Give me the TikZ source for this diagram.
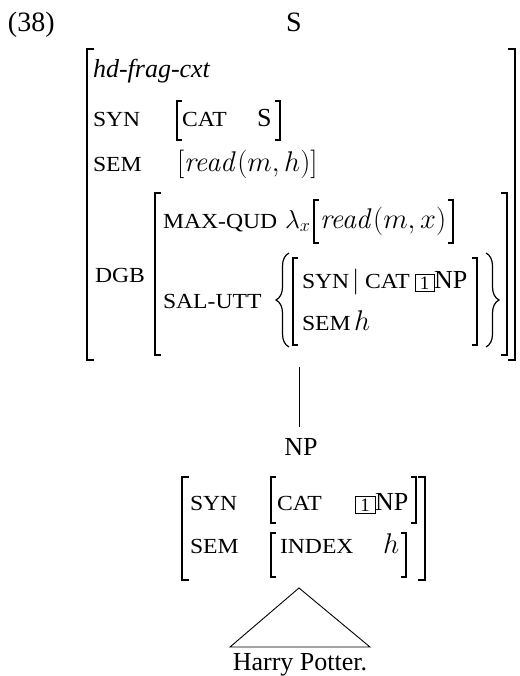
\documentclass[tikz,border=0pt]{standalone}
\usepackage{fix-cm}
\usepackage[no-math]{fontspec}
\setmainfont{Liberation Serif}
% feature names in small capitals: widened upper case at a reduced size
\newfontfamily\scfam[FakeStretch=1.1]{Liberation Serif}
\usetikzlibrary{decorations.pathreplacing}

\tikzset{
  txt/.style={inner sep=0pt, outer sep=0pt, anchor=base west,
              font=\fontsize{26}{26}\selectfont},
  mathtxt/.style={txt, font=\fontsize{28.5}{28.5}\selectfont},
  smallcap/.style={txt, font=\scfam\fontsize{21.5}{21.5}\selectfont},
  bigtxt/.style={inner sep=0pt, outer sep=0pt, anchor=base west,
              font=\fontsize{28}{28}\selectfont},
  brk/.style={line width=1.1pt},
  tagbox/.style={draw, line width=0.8pt, inner sep=0pt, outer sep=0pt,
              minimum width=19pt, minimum height=16.5pt, anchor=south west,
              font=\fontsize{19}{19}\selectfont},
  link/.style={line width=0.9pt},
  curly/.style={line width=1.2pt, decorate, decoration={brace, amplitude=13pt}}
}

\begin{document}
\begin{tikzpicture}[x=1pt, y=1pt]
\useasboundingbox (0,0) rectangle (519,-676);

% ---- label and mother category ----
\node[bigtxt] (exnum) at (8,-32) {(38)};
\node[bigtxt, anchor=base] (mother) at (294,-32) {S};

% ---- outer AVM of S ----
\draw[brk] (94,-49) -| (87,-360) -- ++(7,0);
\draw[brk] (508,-49) -| (515,-360) -- ++(-7,0);

\node[txt] (type) at (93,-78) {\textit{hd-frag-cxt}};

\node[smallcap] (synA) at (93,-127) {SYN};
\draw[brk] (182,-101) -| (177,-140) -- ++(5,0);
\node[smallcap] (catA) at (182,-127) {CAT};
\node[txt] (valA) at (257,-127) {S};
\draw[brk] (275,-101) -| (280,-140) -- ++(-5,0);

\node[smallcap] (semA) at (93,-172) {SEM};
\node[mathtxt] (readA) at (177,-172) {$[\mathit{read}(m,h)]$};

\node[smallcap] (dgb) at (95,-282) {DGB};
\draw[brk] (161,-193) -| (155,-355) -- ++(6,0);
\draw[brk] (501,-193) -| (507,-355) -- ++(-6,0);

\node[smallcap] (maxqud) at (163,-228) {MAX-QUD};
\node[txt] (lam) at (285,-228) {$\lambda_x$};
\draw[brk] (319,-200) -| (314,-243) -- ++(5,0);
\node[mathtxt] (readB) at (320,-228) {$\mathit{read}(m,x)$};
\draw[brk] (448,-200) -| (453,-243) -- ++(-5,0);

\node[smallcap] (salutt) at (163,-308) {SAL-UTT};
\draw[curly] (289,-347) -- (289,-253);
\draw[brk] (298,-258) -| (293,-345) -- ++(5,0);
\node[smallcap] (synB) at (302,-288) {SYN};
\node[txt] (barB) at (352,-288) {$|$};
\node[smallcap] (catB) at (365,-288) {CAT};
\node[tagbox] (tagB) at (415,-291) {1};
\node[txt] (npB) at (434,-288) {NP};
\node[smallcap] (semB) at (302,-330) {SEM};
\node[mathtxt] (hB) at (354,-330) {$h$};
\draw[brk] (472,-258) -| (477,-345) -- ++(-5,0);
\draw[curly] (486,-253) -- (486,-347);

% ---- branch to the daughter ----
\coordinate (branchtop) at (299,-367);
\coordinate (branchbot) at (299,-427);
\draw[link] (branchtop) -- (branchbot);

\node[txt, anchor=base] (daughter) at (301,-455) {NP};

% ---- AVM of NP ----
\draw[brk] (189,-477) -| (182,-580) -- ++(7,0);
\draw[brk] (418,-477) -| (425,-580) -- ++(-7,0);

\node[smallcap] (synC) at (190,-510) {SYN};
\draw[brk] (276,-477) -| (271,-523) -- ++(5,0);
\node[smallcap] (catC) at (277,-510) {CAT};
\node[tagbox, minimum width=20pt] (tagC) at (355,-513) {1};
\node[txt] (npC) at (375,-510) {NP};
\draw[brk] (411,-477) -| (416,-523) -- ++(-5,0);

\node[smallcap] (semC) at (190,-553) {SEM};
\draw[brk] (276,-533) -| (271,-577) -- ++(5,0);
\node[smallcap] (indexC) at (280,-553) {INDEX};
\node[mathtxt] (hC) at (383,-553) {$h$};
\draw[brk] (401,-533) -| (406,-577) -- ++(-5,0);

% ---- roof over the phrase ----
\coordinate (apex) at (299,-588);
\coordinate (roofL) at (230,-647);
\coordinate (roofR) at (370,-647);
\draw[link] (roofL) -- (apex) -- (roofR) -- cycle;
\node[txt, anchor=base] (phrase) at (300,-670) {Harry Potter.};
\end{tikzpicture}
\end{document}
